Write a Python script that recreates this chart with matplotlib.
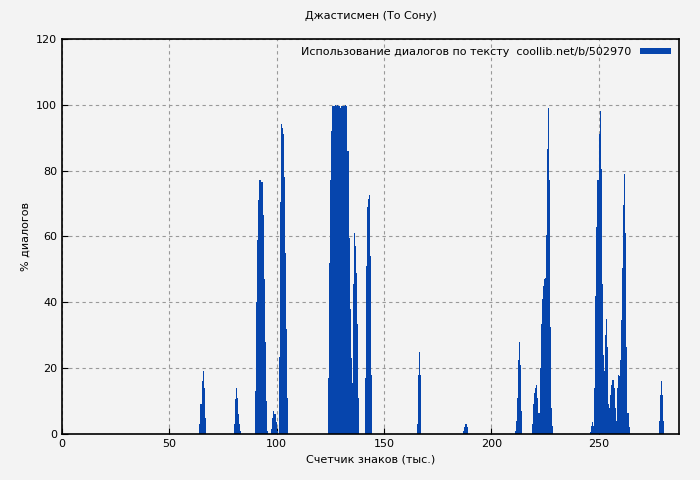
import numpy as np
import matplotlib
matplotlib.use('Agg')
import matplotlib.pyplot as plt

STEP = 0.5  # thousands of characters per bar

# clusters of bars: (start position, values in %)
cluster_a = (64.0,  [3, 9, 16, 19, 14, 5])
cluster_b = (80.0,  [3, 10.5, 14, 11, 6, 3, 1])
cluster_c = (90.0,  [13, 40, 59, 71, 77, 76.5, 76.5, 66.5, 47, 28, 10, 1])
cluster_d = (97.5,  [1.5, 5, 7, 6, 3.5, 1])
cluster_e = (101.0, [23.5, 70.5, 94, 93, 91, 78, 55, 32, 11])
cluster_f = (124.0, [17, 52, 77, 92, 99.5, 99.5, 100, 99.5, 100, 99.5, 99.5, 99, 99.5,
                     99.5, 99.5, 99.5, 100, 99.5, 86, 59.5, 38, 23, 15.5, 45.5, 61, 57,
                     49, 33.5, 11])
cluster_g = (141.0, [17, 51, 69, 71.5, 72.5, 54, 18])
cluster_h = (165.5, [3, 18, 25, 18])
cluster_i = (187.0, [1, 2, 3, 2])
cluster_j = (211.0, [1, 4, 11, 22.5, 28, 21, 7])
cluster_k = (219.0, [3, 9, 12.5, 14, 15, 11, 6.5, 20, 33.5, 41, 45, 47, 47.5, 60.5,
                     86.5, 99, 77, 32.5, 8, 2.5])
cluster_l = (246.0, [0.5, 2.5, 3.5, 2.5, 14, 42, 63, 77, 91, 98, 80.5, 45.5, 24, 19, 30,
                     35, 26.5, 9, 8, 12, 15, 16.5, 14, 8, 4, 14, 18, 17.5, 22.5, 34.5,
                     50.5, 69.5, 79, 61, 26.5, 6.5, 2])
cluster_m = (278.0, [4, 12, 16, 12, 4])

clusters = [cluster_a, cluster_b, cluster_c, cluster_d, cluster_e, cluster_f, cluster_g,
            cluster_h, cluster_i, cluster_j, cluster_k, cluster_l, cluster_m]

xs, ys = [], []
for start, vals in clusters:
    for i, v in enumerate(vals):
        xs.append(start + i * STEP)
        ys.append(v)

BG = '#f3f3f3'
BLUE = '#0645ad'

fig = plt.figure(figsize=(7, 4.8), dpi=100)
fig.patch.set_facecolor(BG)
ax = fig.add_axes([0.0886, 0.0958, 0.8814, 0.8232])
ax.set_facecolor(BG)

ax.bar(xs, ys, width=STEP, align='edge', color=BLUE, linewidth=0,
       label='Использование диалогов по тексту  coollib.net/b/502970')

ax.set_xlim(0, 287.5)
ax.set_ylim(0, 120)
ax.set_xticks([0, 50, 100, 150, 200, 250])
ax.set_yticks(range(0, 121, 20))
ax.tick_params(labelsize=8, direction='in', length=4, top=False, right=False)
ax.grid(True, color='#999999', linestyle=(0, (3, 3)), linewidth=0.8)
ax.set_axisbelow(True)
for s in ax.spines.values():
    s.set_linewidth(1.2)

ax.set_xlabel('Счетчик знаков (тыс.)', fontsize=8)
ax.set_ylabel('% диалогов', fontsize=8)
ax.set_title('Джастисмен (То Сону)', fontsize=8, pad=14)

leg = ax.legend(loc='upper right', fontsize=8, frameon=False, markerfirst=False,
                handlelength=2.8, handleheight=0.5, borderaxespad=0.3)

fig.savefig('out.png', dpi=100, facecolor=fig.get_facecolor())
